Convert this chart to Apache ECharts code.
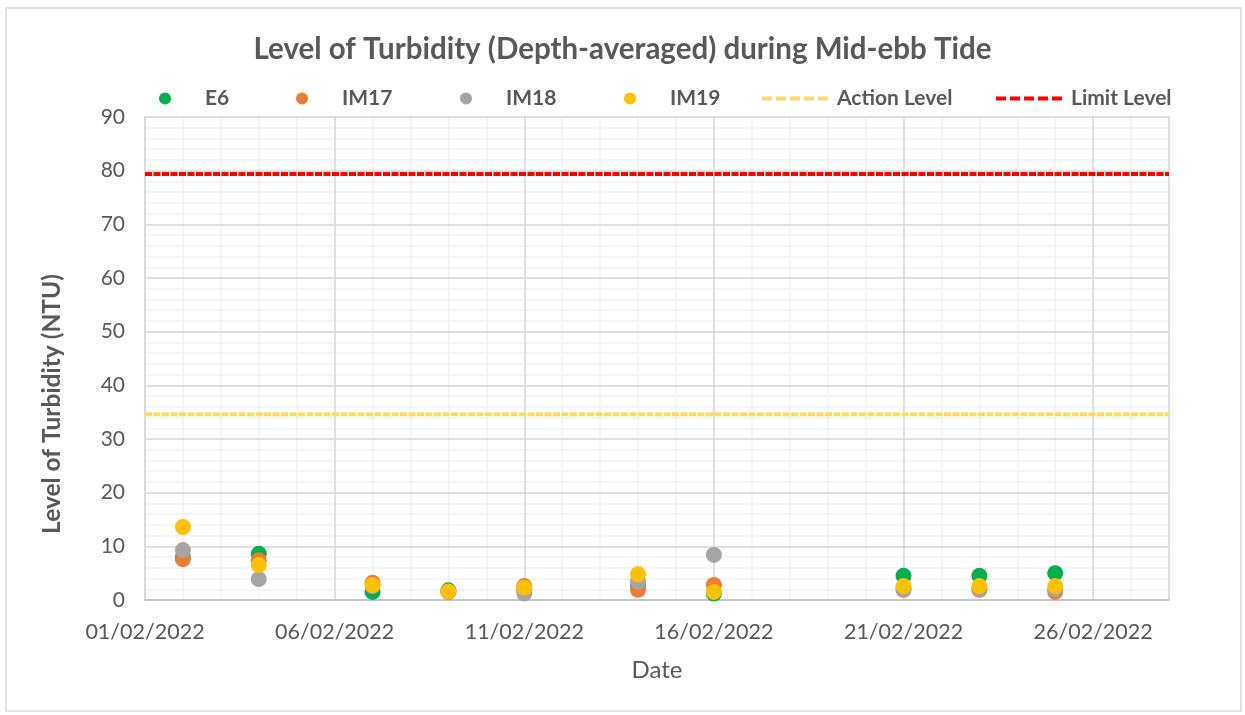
<!DOCTYPE html>
<html>
<head>
<meta charset="utf-8">
<title>Level of Turbidity</title>
<script src="https://cdn.jsdelivr.net/npm/echarts@6/dist/echarts.min.js"></script>
<style>
    html, body { margin: 0; padding: 0; background: #fff; }
    #chart-container { width: 1245px; height: 715px; }
</style>
</head>
<body>
<div id="chart-container"></div>
<script>
    //Data//
    var dates = ['02/02/2022', '04/02/2022', '07/02/2022', '09/02/2022', '11/02/2022',
                 '14/02/2022', '16/02/2022', '21/02/2022', '23/02/2022', '25/02/2022']
    var e6   = [8.0, 8.6, 1.5, 1.8, 2.0, 2.5, 1.2, 4.5, 4.5, 5.0]
    var im17 = [7.6, 7.4, 3.2, 1.5, 2.6, 1.9, 2.8, 1.9, 1.9, 1.5]
    var im18 = [9.3, 3.9, 2.6, 1.5, 1.2, 3.4, 8.4, 2.1, 2.1, 2.0]
    var im19 = [13.6, 6.5, 2.8, 1.6, 2.3, 4.8, 1.5, 2.6, 2.6, 2.6]
    var levelDates = ['01/02/2022', '28/02/2022']
    var actionLevel = 34.6
    var limitLevel = 79.4
    var yTicks = [0, 90, 10]

    var FONT = 'Lato'
    var GREY = '#595959'

    // day offset from 01/02/2022
    function dayOf(str) {
        return parseInt(str.split('/')[0], 10) - 1
    }
    function labelOf(v) {
        var d = v + 1
        return (d < 10 ? '0' + d : '' + d) + '/02/2022'
    }
    function pairs(values) {
        return dates.map(function (d, i) { return [dayOf(d), values[i]] })
    }
    function flat(v) {
        return levelDates.map(function (d) { return [dayOf(d), v] })
    }
    var xMin = dayOf(levelDates[0])
    var xMax = dayOf(levelDates[1])

    function scatter(name, values, color) {
        return {
            name: name,
            type: 'scatter',
            symbolSize: 16,
            itemStyle: { color: color, opacity: 1 },
            data: pairs(values)
        }
    }
    function level(name, v, color) {
        return {
            name: name,
            type: 'line',
            symbol: 'none',
            itemStyle: { color: color },
            lineStyle: { color: color, width: 4, type: [7, 1.5] },
            data: flat(v),
            z: 1
        }
    }

    //Legend//
    var legendItems = [
        { name: 'E6', left: 159, line: false },
        { name: 'IM17', left: 296, line: false },
        { name: 'IM18', left: 460, line: false },
        { name: 'IM19', left: 624, line: false },
        { name: 'Action Level', left: 760, line: true },
        { name: 'Limit Level', left: 994, line: true }
    ]
    var legends = legendItems.map(function (it) {
        var lg = {
            data: [it.name],
            left: it.left,
            top: 88,
            padding: 0,
            itemWidth: 70,
            itemHeight: 12,
            itemGap: 0,
            selectedMode: false,
            textStyle: { fontFamily: FONT, fontSize: 21, fontWeight: 'bold', color: GREY }
        }
        if (it.line) {
            lg.itemStyle = { opacity: 0 }
            lg.lineStyle = { width: 4, type: [10, 4] }
        }
        return lg
    })

    var dom = document.getElementById('chart-container')
    var myChart = echarts.init(dom, null, { renderer: 'canvas' })

    var option = {
        animation: false,
        title: {
            text: 'Level of Turbidity (Depth-averaged) during Mid-ebb Tide',
            left: 'center',
            top: 29,
            textStyle: { fontFamily: FONT, fontSize: 29.5, fontWeight: 'bold', color: GREY }
        },
        legend: legends,
        grid: { left: 145, right: 76, top: 117, bottom: 115 },
        xAxis: [
            {
                type: 'value',
                min: xMin,
                max: xMax,
                interval: 5,
                z: 1,
                axisLine: { show: true, lineStyle: { color: '#BFBFBF', width: 1.5 } },
                axisTick: { show: false },
                splitLine: { show: true, lineStyle: { color: '#D9D9D9', width: 1.5 } },
                axisLabel: {
                    showMaxLabel: false,
                    margin: 21,
                    fontFamily: FONT, fontSize: 21.5, color: GREY,
                    formatter: labelOf
                },
                name: 'Date',
                nameLocation: 'middle',
                nameGap: 58,
                nameTextStyle: { fontFamily: FONT, fontSize: 24, color: GREY }
            },
            {
                type: 'value',
                min: xMin,
                max: xMax,
                interval: 1,
                z: 0,
                axisLine: { show: false },
                axisTick: { show: false },
                axisLabel: { show: false },
                splitLine: { show: true, lineStyle: { color: '#F2F2F2', width: 1.5 } }
            }
        ],
        yAxis: [
            {
                type: 'value',
                min: yTicks[0],
                max: yTicks[1],
                interval: yTicks[2],
                z: 1,
                axisLine: { show: true, lineStyle: { color: '#D9D9D9', width: 1.5 } },
                axisTick: { show: false },
                splitLine: { show: true, lineStyle: { color: '#D9D9D9', width: 1.5 } },
                axisLabel: { margin: 20, fontFamily: FONT, fontSize: 21, color: GREY }
            },
            {
                type: 'value',
                min: yTicks[0],
                max: yTicks[1],
                interval: 2,
                z: 0,
                axisLine: { show: false },
                axisTick: { show: false },
                axisLabel: { show: false },
                splitLine: { show: true, lineStyle: { color: '#F2F2F2', width: 1.5 } }
            }
        ],
        graphic: [
            {
                type: 'rect',
                shape: { x: 6, y: 8, width: 1235, height: 703 },
                style: { fill: 'none', stroke: '#D9D9D9', lineWidth: 1.5 },
                silent: true
            },
            {
                type: 'text',
                x: 52,
                y: 404,
                rotation: Math.PI / 2,
                style: {
                    text: 'Level of Turbidity (NTU)',
                    align: 'center',
                    verticalAlign: 'middle',
                    fontFamily: FONT, fontSize: 24.5, fontWeight: 'bold', fill: GREY
                }
            }
        ],
        series: [
            level('Action Level', actionLevel, '#FFD966'),
            level('Limit Level', limitLevel, '#FF0000'),
            scatter('E6', e6, '#00B050'),
            scatter('IM17', im17, '#ED7D31'),
            scatter('IM18', im18, '#A5A5A5'),
            scatter('IM19', im19, '#FFC000')
        ]
    }

    if (option && typeof option === 'object') {
        myChart.setOption(option)
    }

    window.addEventListener('resize', myChart.resize)
</script>
</body>
</html>
